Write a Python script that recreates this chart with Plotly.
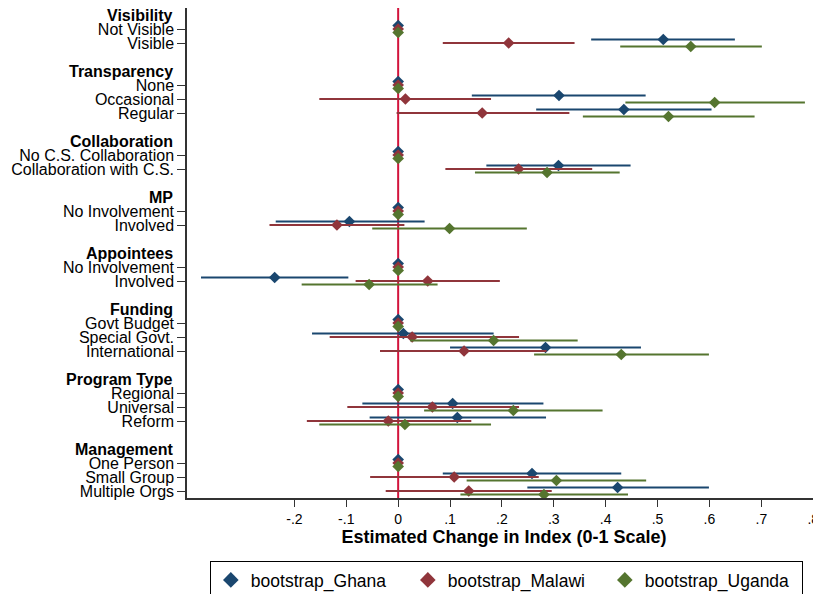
import plotly.graph_objects as go

# ---- data ----
groups = ["Visibility", "Transparency", "Collaboration", "MP", "Appointees",
          "Funding", "Program Type", "Management"]
group_items = [
    ["Not Visible", "Visible"],
    ["None", "Occasional", "Regular"],
    ["No C.S. Collaboration", "Collaboration with C.S."],
    ["No Involvement", "Involved"],
    ["No Involvement", "Involved"],
    ["Govt Budget", "Special Govt.", "International"],
    ["Regional", "Universal", "Reform"],
    ["One Person", "Small Group", "Multiple Orgs"],
]

series_names = ["bootstrap_Ghana", "bootstrap_Malawi", "bootstrap_Uganda"]

ghana_est = [0, 0.511, 0, 0.310, 0.435, 0, 0.309, 0, -0.094, 0, -0.238,
             0, 0.010, 0.284, 0, 0.105, 0.114, 0, 0.258, 0.423]
ghana_lo = [0, 0.372, 0, 0.142, 0.266, 0, 0.170, 0, -0.236, 0, -0.380,
            0, -0.166, 0.100, 0, -0.069, -0.055, 0, 0.086, 0.249]
ghana_hi = [0, 0.649, 0, 0.477, 0.604, 0, 0.448, 0, 0.051, 0, -0.096,
            0, 0.184, 0.468, 0, 0.280, 0.285, 0, 0.430, 0.599]

malawi_est = [0, 0.213, 0, 0.014, 0.162, 0, 0.232, 0, -0.118, 0, 0.057,
              0, 0.027, 0.127, 0, 0.066, -0.019, 0, 0.108, 0.136]
malawi_lo = [0, 0.086, 0, -0.152, -0.003, 0, 0.091, 0, -0.248, 0, -0.082,
             0, -0.132, -0.035, 0, -0.098, -0.176, 0, -0.054, -0.024]
malawi_hi = [0, 0.340, 0, 0.179, 0.330, 0, 0.374, 0, 0.012, 0, 0.196,
             0, 0.233, 0.286, 0, 0.233, 0.141, 0, 0.271, 0.296]

uganda_est = [0, 0.564, 0, 0.610, 0.521, 0, 0.287, 0, 0.099, 0, -0.056,
              0, 0.184, 0.430, 0, 0.222, 0.013, 0, 0.305, 0.281]
uganda_lo = [0, 0.428, 0, 0.438, 0.356, 0, 0.148, 0, -0.050, 0, -0.186,
             0, 0.023, 0.262, 0, 0.050, -0.152, 0, 0.132, 0.120]
uganda_hi = [0, 0.701, 0, 0.784, 0.687, 0, 0.427, 0, 0.248, 0, 0.076,
             0, 0.346, 0.599, 0, 0.394, 0.179, 0, 0.478, 0.443]

x_tickvals = [-0.2, -0.1, 0, 0.1, 0.2, 0.3, 0.4, 0.5, 0.6, 0.7, 0.8]
x_ticktext = ["-.2", "-.1", "0", ".1", ".2", ".3", ".4", ".5", ".6", ".7", ".8"]

# ---- layout of rows (slots) ----
item_pos, item_labels, header_pos = [], [], []
slot = 1
for g, its in zip(groups, group_items):
    header_pos.append(slot)
    slot += 1
    for it in its:
        item_pos.append(slot)
        item_labels.append(it)
        slot += 1
    slot += 1  # blank gap

colors = ["#1a476f", "#90353b", "#55752f"]
offsets = [-0.25, 0.0, 0.25]
series = [(ghana_est, ghana_lo, ghana_hi),
          (malawi_est, malawi_lo, malawi_hi),
          (uganda_est, uganda_lo, uganda_hi)]

FONT = "Liberation Sans, Arial, Helvetica, sans-serif"
fig = go.Figure()
for name, col, off, (est, lo, hi) in zip(series_names, colors, offsets, series):
    fig.add_trace(go.Scatter(
        x=est,
        y=[p + off for p in item_pos],
        mode="markers",
        name=name,
        marker=dict(symbol="diamond", size=9, color=col, line=dict(width=0)),
        error_x=dict(type="data", symmetric=False,
                     array=[h - e for h, e in zip(hi, est)],
                     arrayminus=[e - l for e, l in zip(est, lo)],
                     color=col, thickness=2, width=0),
        showlegend=True,
    ))

fig.add_shape(type="line", xref="x", yref="paper", x0=0, x1=0, y0=0, y1=1,
              line=dict(color="#d2143c", width=2), layer="below")

for g, hp in zip(groups, header_pos):
    fig.add_annotation(text="<b>%s</b>" % g, xref="paper", yref="y", x=0, y=hp,
                       xanchor="right", yanchor="middle", xshift=-12,
                       showarrow=False, font=dict(size=16, color="black", family=FONT))

fig.update_layout(
    width=813, height=586,
    margin=dict(l=179, r=0, t=0, b=96, autoexpand=False),
    paper_bgcolor="white", plot_bgcolor="white",
    font=dict(family=FONT, color="black"),
    xaxis=dict(range=[-0.407, 0.815], tickvals=x_tickvals, ticktext=x_ticktext,
               automargin=False,
               showgrid=False, zeroline=False, showline=True, linecolor="#333333",
               linewidth=1.5, ticks="outside", ticklen=7, tickcolor="#333333",
               ticklabelstandoff=0,
               tickfont=dict(size=14), title=dict(text="<b>Estimated Change in Index (0-1 Scale)</b>",
                                                   font=dict(size=18), standoff=3)),
    yaxis=dict(range=[35.5, 0.5], tickvals=item_pos, ticktext=item_labels,
               automargin=False,
               showgrid=False, zeroline=False, showline=True, linecolor="#333333",
               linewidth=1.5, ticks="outside", ticklen=8, tickcolor="#333333",
               tickfont=dict(size=16)),
    legend=dict(orientation="h", x=0.036, y=-0.1286, xanchor="left", yanchor="top",
                bordercolor="black", borderwidth=1, bgcolor="white",
                font=dict(size=17.5), entrywidth=152, itemsizing="constant",
                itemwidth=30),
)

fig.write_html("out.html")
